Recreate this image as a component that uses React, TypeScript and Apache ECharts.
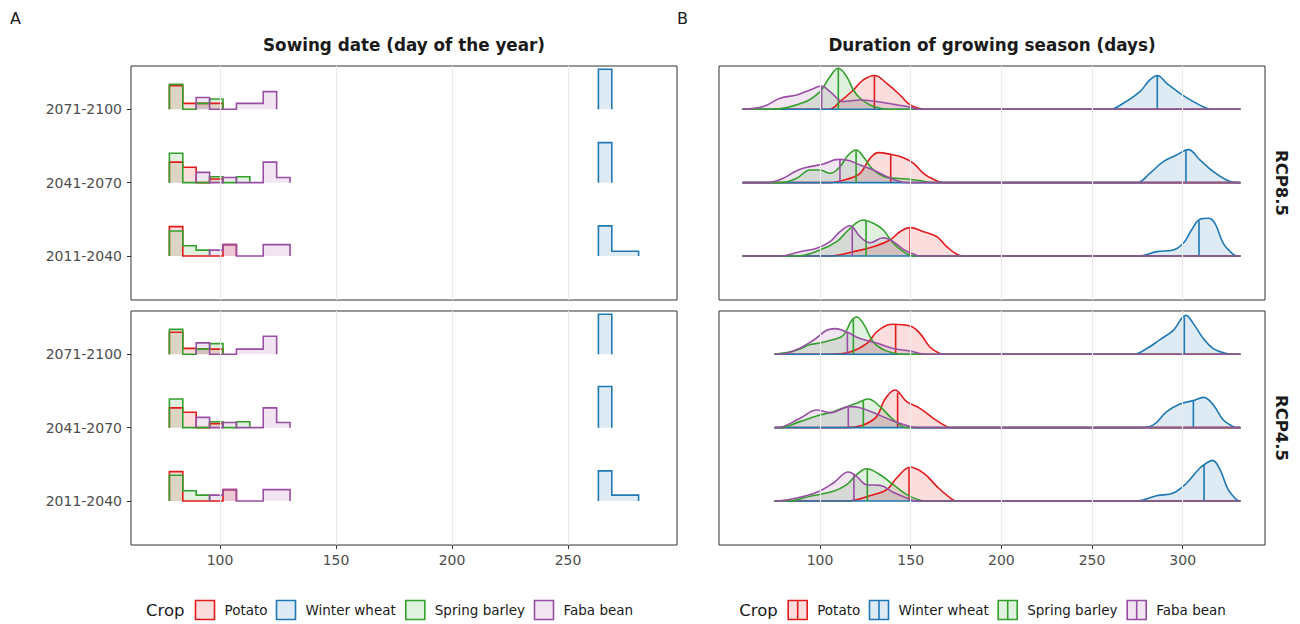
import React, { useEffect, useRef } from "react";
import * as echarts from "echarts";

// ---------- categories ----------
const PERIODS = ["2011-2040", "2041-2070", "2071-2100"]; // y = 1, 2, 3
const SCENARIOS = ["RCP8.5", "RCP4.5"];
const CROPS = ["Potato", "Winter wheat", "Spring barley", "Faba bean"];
const CROP_COLORS = ["#E31A1C", "#1F78B4", "#33A02C", "#984EA3"];

// ---------- axes ----------
const SOWING_TICKS = [100, 150, 200, 250];
const DURATION_TICKS = [100, 150, 200, 250, 300];
const SOWING_AXIS = [61.6, 297];
const DURATION_AXIS = [44.3, 345.4];
const Y_AXIS = [0.4, 3.59];

// ---------- A: sowing date histograms ----------
const BIN_START = 78.15;
const BIN_WIDTH = 5.78;
// each row (per period 2011-2040, 2041-2070, 2071-2100): [first bin index, ...relative heights]
const SOW85_POTATO = [[0, 0.4, 0, 0, 0, 0.155], [0, 0.28, 0.21, 0, 0.05], [0, 0.32, 0.08, 0.08, 0.08]];
const SOW85_WHEAT = [[32, 0.41, 0.064, 0.064], [32, 0.545], [32, 0.545]];
const SOW85_BARLEY = [[0, 0.34, 0.14, 0.08], [0, 0.4, 0, 0, 0.08, 0, 0.08], [0, 0.34, 0, 0.08, 0.14]];
const SOW85_FABA = [[3, 0.08, 0.155, 0, 0, 0.155, 0.155], [2, 0.14, 0, 0.07, 0, 0, 0.28, 0.07], [2, 0.16, 0, 0, 0.08, 0.08, 0.24]];

const SOW45_POTATO = [[0, 0.4, 0, 0, 0, 0.155], [0, 0.27, 0.21, 0, 0.055], [0, 0.3, 0.08, 0.07, 0.07]];
const SOW45_WHEAT = [[32, 0.41, 0.08, 0.08], [32, 0.56], [32, 0.545]];
const SOW45_BARLEY = [[0, 0.35, 0.14, 0.08], [0, 0.39, 0, 0, 0.08, 0, 0.08], [0, 0.34, 0, 0.07, 0.145]];
const SOW45_FABA = [[3, 0.08, 0.155, 0, 0, 0.155, 0.155], [2, 0.14, 0, 0.07, 0, 0, 0.27, 0.07], [2, 0.155, 0, 0, 0.07, 0.07, 0.245]];

// ---------- B: growing season duration densities ----------
const DUR_RANGE = [[57.5, 331.6], [75.2, 331.6]]; // per scenario

const DUR85_POTATO = [
  [[105.5, 0], [118.4, 0.059], [129.4, 0.127], [138.6, 0.218], [144.1, 0.331], [149.7, 0.386], [157.1, 0.331], [164.4, 0.263], [169.9, 0.127], [175.4, 0.023], [179, 0]],
  [[105, 0], [114.7, 0.045], [122.1, 0.127], [127.6, 0.331], [132.2, 0.409], [138.7, 0.386], [146, 0.34], [151.6, 0.263], [157.1, 0.127], [162.5, 0.045], [168, 0]],
  [[105, 0], [111, 0.105], [118.4, 0.263], [123.9, 0.4], [130, 0.46], [136.8, 0.354], [144.1, 0.195], [149.7, 0.059], [155.2, 0.01], [158.8, 0]],
];
const DUR85_WHEAT = [
  [[276.4, 0], [285.6, 0.059], [294.8, 0.082], [300.3, 0.173], [304.9, 0.354], [309.5, 0.5], [314.1, 0.514], [317.8, 0.445], [322.4, 0.173], [327.9, 0.023], [330.6, 0]],
  [[274.6, 0], [281.9, 0.127], [289.3, 0.286], [296.6, 0.377], [303.1, 0.45], [309.5, 0.309], [316.9, 0.15], [324.2, 0.037], [329.7, 0]],
  [[259.9, 0], [267.2, 0.082], [276.4, 0.241], [281.9, 0.4], [286, 0.46], [291.2, 0.354], [298.5, 0.218], [305.9, 0.105], [313.2, 0.014], [316.9, 0]],
];
const DUR85_BARLEY = [
  [[87.1, 0], [100, 0.082], [109.2, 0.195], [114.7, 0.331], [120.2, 0.454], [123.5, 0.49], [129.4, 0.445], [134.9, 0.354], [140.4, 0.173], [146, 0.059], [151.5, 0]],
  [[77.9, 0], [87.1, 0.059], [94.5, 0.173], [100, 0.173], [105.5, 0.127], [111, 0.218], [115.6, 0.377], [119.9, 0.445], [123.9, 0.354], [129.4, 0.173], [136.8, 0.072], [147.8, 0.05], [155.1, 0.027], [162.5, 0]],
  [[72.4, 0], [90.8, 0.091], [100, 0.241], [105.5, 0.445], [110.1, 0.559], [114.7, 0.445], [118.4, 0.263], [122.1, 0.15], [127.6, 0.059], [133.1, 0.014], [136.8, 0]],
];
const DUR85_FABA = [
  [[77.9, 0], [89, 0.059], [98.2, 0.105], [105.5, 0.195], [111, 0.331], [116.5, 0.413], [122.1, 0.263], [127.6, 0.181], [134.9, 0.249], [140.4, 0.195], [146, 0.091], [151.5, 0.027], [155.1, 0]],
  [[70.6, 0], [79.7, 0.059], [87.1, 0.163], [94.5, 0.218], [101.8, 0.254], [110.1, 0.317], [114.7, 0.309], [122.1, 0.241], [129.4, 0.173], [136.8, 0.082], [142.3, 0.027], [147.8, 0]],
  [[57.7, 0], [68.7, 0.037], [77.9, 0.15], [87.1, 0.195], [94.5, 0.263], [100.9, 0.317], [105.5, 0.241], [112.9, 0.105], [122.1, 0.127], [131.2, 0.105], [140.4, 0.068], [147.8, 0.037], [155.1, 0]],
];
const DUR85_MEDIANS = [
  [149.7, 139, 130],
  [309, 301.8, 286],
  [125.4, 119.9, 110.1],
  [117.8, 111, 100.9],
];

const DUR45_POTATO = [
  [[114.7, 0], [129.4, 0.086], [136.8, 0.154], [142.3, 0.313], [149.7, 0.459], [157.1, 0.381], [164.4, 0.2], [171.8, 0.041], [175.4, 0]],
  [[114.7, 0], [123.9, 0.037], [131.2, 0.15], [135.8, 0.386], [141.3, 0.514], [147.8, 0.354], [155.1, 0.263], [162.5, 0.127], [169.9, 0.014], [172.5, 0]],
  [[105.5, 0], [116.5, 0.031], [125.7, 0.146], [131.2, 0.304], [136.8, 0.395], [140.4, 0.409], [149.7, 0.386], [155.2, 0.282], [160.6, 0.1], [166.1, 0.01], [168.5, 0]],
];
const DUR45_WHEAT = [
  [[274.6, 0], [285.6, 0.072], [294.8, 0.109], [302.2, 0.245], [309.5, 0.45], [313.2, 0.518], [316.5, 0.554], [320.6, 0.426], [325.1, 0.154], [329.7, 0.018], [331.5, 0]],
  [[276.4, 0], [283.8, 0.037], [291.2, 0.218], [298.5, 0.323], [305.9, 0.368], [311.4, 0.413], [316.9, 0.309], [322.4, 0.105], [327.9, 0.014], [329.7, 0]],
  [[272.8, 0], [280.2, 0.078], [287.5, 0.2], [294.8, 0.327], [301.8, 0.531], [305.9, 0.418], [311.4, 0.214], [316.9, 0.078], [324.2, 0.01], [327.9, 0]],
];
const DUR45_BARLEY = [
  [[81.6, 0], [94.5, 0.064], [107.4, 0.132], [114.7, 0.222], [120.2, 0.358], [125.7, 0.44], [133.1, 0.358], [140.4, 0.222], [147.8, 0.086], [155.1, 0.01], [158.8, 0]],
  [[77.9, 0], [89, 0.082], [98.2, 0.159], [107.4, 0.218], [114.7, 0.286], [120.2, 0.331], [126.6, 0.391], [133.1, 0.286], [138.6, 0.15], [144.1, 0.037], [147.8, 0]],
  [[75.2, 0], [87.1, 0.054], [94.5, 0.132], [100, 0.154], [107.4, 0.2], [112.9, 0.259], [117.5, 0.463], [120.2, 0.508], [123.9, 0.418], [129.4, 0.168], [134.9, 0.064], [140.4, 0.018], [145, 0]],
];
const DUR45_FABA = [
  [[76, 0], [87.1, 0.041], [98.2, 0.118], [107.4, 0.245], [115.6, 0.395], [120.2, 0.336], [125.7, 0.222], [133.1, 0.213], [140.4, 0.118], [147.8, 0.041], [153.4, 0]],
  [[76, 0], [89, 0.127], [98.2, 0.241], [105.5, 0.204], [116.5, 0.286], [122.1, 0.272], [131.2, 0.186], [140.4, 0.091], [149.7, 0.014], [153.4, 0]],
  [[77.9, 0], [87.1, 0.064], [96.3, 0.191], [103.7, 0.327], [108.3, 0.35], [114.7, 0.304], [122.1, 0.214], [131.2, 0.154], [140.4, 0.078], [149.7, 0.045], [155.1, 0.01], [158.8, 0]],
];
const DUR45_MEDIANS = [
  [149.1, 142.8, 141.7],
  [311.8, 305.9, 300.9],
  [126.1, 123.9, 118.4],
  [118.7, 115.6, 115.1],
];

const SOWING = [
  [SOW85_POTATO, SOW85_WHEAT, SOW85_BARLEY, SOW85_FABA],
  [SOW45_POTATO, SOW45_WHEAT, SOW45_BARLEY, SOW45_FABA],
];
const DURATION = [
  [DUR85_POTATO, DUR85_WHEAT, DUR85_BARLEY, DUR85_FABA],
  [DUR45_POTATO, DUR45_WHEAT, DUR45_BARLEY, DUR45_FABA],
];
const MEDIANS = [DUR85_MEDIANS, DUR45_MEDIANS];

// ---------- layout ----------
const FONT = "DejaVu Sans";
const LINE_W = 1.6;
const SMOOTH = 0.4;
const GRIDS = [
  { left: 131, top: 66, width: 546, height: 234 },
  { left: 131, top: 311, width: 546, height: 234 },
  { left: 719, top: 66, width: 546, height: 234 },
  { left: 719, top: 311, width: 546, height: 234 },
];
const LEGEND_A = { crop: 146, keys: [195, 276, 405.3, 534] };
const LEGEND_B = { crop: 739.3, keys: [787.7, 869, 997.7, 1126.7] };
const LEGEND_Y = 600;

function rgba(hex: string, a: number) {
  const n = parseInt(hex.slice(1), 16);
  return `rgba(${(n >> 16) & 255},${(n >> 8) & 255},${n & 255},${a})`;
}

function heightAt(pts: number[][], x: number) {
  for (let i = 0; i < pts.length - 1; i++) {
    const [x0, y0] = pts[i];
    const [x1, y1] = pts[i + 1];
    if (x >= x0 && x <= x1) return y0 + ((y1 - y0) * (x - x0)) / (x1 - x0);
  }
  return 0;
}

function buildOption() {
  const series: any[] = [];
  const grid = GRIDS.map((g) => ({
    ...g,
    show: true,
    borderColor: "#333333",
    borderWidth: 1,
    backgroundColor: "transparent",
  }));
  const xAxis = GRIDS.map((_, g) => {
    const isA = g < 2;
    const bottom = g % 2 === 1;
    const ticks = isA ? SOWING_TICKS : DURATION_TICKS;
    const range = isA ? SOWING_AXIS : DURATION_AXIS;
    return {
      type: "value",
      gridIndex: g,
      min: range[0],
      max: range[1],
      axisLine: { show: false },
      axisTick: { show: bottom, customValues: ticks, length: 4, lineStyle: { color: "#333333" } },
      axisLabel: {
        show: bottom,
        customValues: ticks,
        margin: 8,
        color: "#4d4d4d",
        fontSize: 14,
        fontFamily: FONT,
      },
      splitLine: { show: false },
    };
  });
  const yAxis = GRIDS.map((_, g) => {
    const isA = g < 2;
    return {
      type: "value",
      gridIndex: g,
      min: Y_AXIS[0],
      max: Y_AXIS[1],
      axisLine: { show: false },
      axisTick: { show: isA, customValues: [1, 2, 3], length: 4, lineStyle: { color: "#333333" } },
      axisLabel: {
        show: isA,
        customValues: [1, 2, 3],
        formatter: (v: number) => PERIODS[Math.round(v) - 1],
        margin: 9,
        color: "#4d4d4d",
        fontSize: 14,
        fontFamily: FONT,
      },
      splitLine: { show: false },
    };
  });

  // grid lines
  GRIDS.forEach((_, g) => {
    const ticks = g < 2 ? SOWING_TICKS : DURATION_TICKS;
    series.push({
      type: "line",
      xAxisIndex: g,
      yAxisIndex: g,
      data: [[ticks[0], 1]],
      symbol: "none",
      silent: true,
      lineStyle: { width: 0 },
      z: 0,
      markLine: {
        silent: true,
        symbol: "none",
        label: { show: false },
        lineStyle: { color: "#EBEBEB", type: "solid", width: 1.1 },
        data: ticks.map((t) => ({ xAxis: t })),
      },
    });
  });

  SCENARIOS.forEach((_, s) => {
    // Panel A histograms
    const gA = s;
    for (let p = 2; p >= 0; p--) {
      const base = p + 1;
      CROPS.forEach((_, c) => {
        const row = SOWING[s][c][p];
        const first = row[0];
        const hs = row.slice(1);
        const pts: number[][] = [];
        hs.forEach((h, i) => {
          const e0 = BIN_START + (first + i) * BIN_WIDTH;
          const e1 = e0 + BIN_WIDTH;
          if (i === 0) pts.push([e0, base]);
          pts.push([e0, base + h]);
          pts.push([e1, base + h]);
          if (i === hs.length - 1) pts.push([e1, base]);
        });
        series.push({
          type: "line",
          xAxisIndex: gA,
          yAxisIndex: gA,
          data: pts,
          symbol: "none",
          silent: true,
          lineStyle: { color: CROP_COLORS[c], width: LINE_W, join: "miter" },
          areaStyle: { color: rgba(CROP_COLORS[c], 0.15), origin: base, opacity: 1 },
        });
      });
    }
    // Panel B densities
    const gB = 2 + s;
    const [r0, r1] = DUR_RANGE[s];
    for (let p = 2; p >= 0; p--) {
      const base = p + 1;
      CROPS.forEach((_, c) => {
        const dens = DURATION[s][c][p];
        const full = [[r0, 0], ...dens, [r1, 0]].map(([x, h]) => [x, base + h]);
        // fill
        series.push({
          type: "line",
          xAxisIndex: gB,
          yAxisIndex: gB,
          data: full,
          symbol: "none",
          silent: true,
          smooth: SMOOTH,
          lineStyle: { width: 0, opacity: 0 },
          areaStyle: { color: rgba(CROP_COLORS[c], 0.15), origin: base, opacity: 1 },
        });
        // outline
        series.push({
          type: "line",
          xAxisIndex: gB,
          yAxisIndex: gB,
          data: full,
          symbol: "none",
          silent: true,
          smooth: SMOOTH,
          lineStyle: { color: CROP_COLORS[c], width: LINE_W, join: "round", cap: "round" },
        });
        const m = MEDIANS[s][c][p];
        series.push({
          type: "line",
          xAxisIndex: gB,
          yAxisIndex: gB,
          data: [[m, base], [m, base + heightAt(dens, m)]],
          symbol: "none",
          silent: true,
          lineStyle: { color: CROP_COLORS[c], width: LINE_W },
        });
      });
    }
  });

  // texts and legends
  const graphic: any[] = [];
  const txt = (x: number, y: number, text: string, extra: any = {}) => ({
    type: "text",
    x,
    y,
    silent: true,
    style: {
      text,
      fill: "#1a1a1a",
      fontFamily: FONT,
      fontSize: 13.5,
      verticalAlign: "middle",
      align: "left",
      ...extra,
    },
  });
  graphic.push(txt(10, 18, "A", { fontSize: 16 }));
  graphic.push(txt(677, 18, "B", { fontSize: 16 }));
  graphic.push(
    txt(404, 45, "Sowing date (day of the year)", { fontSize: 16.8, fontWeight: "bold", align: "center" })
  );
  graphic.push(
    txt(992, 45, "Duration of growing season (days)", { fontSize: 16.8, fontWeight: "bold", align: "center" })
  );
  SCENARIOS.forEach((sc, s) => {
    const g = GRIDS[2 + s];
    graphic.push({
      type: "text",
      x: 1281,
      y: g.top + g.height / 2,
      rotation: -Math.PI / 2,
      silent: true,
      style: {
        text: sc,
        fill: "#1a1a1a",
        fontFamily: FONT,
        fontSize: 16.5,
        fontWeight: "bold",
        align: "center",
        verticalAlign: "middle",
      },
    });
  });
  [LEGEND_A, LEGEND_B].forEach((lg, li) => {
    graphic.push(txt(lg.crop, LEGEND_Y + 10, "Crop", { fontSize: 16.5 }));
    CROPS.forEach((name, c) => {
      const kx = lg.keys[c];
      graphic.push({
        type: "rect",
        silent: true,
        shape: { x: kx + 0.5, y: LEGEND_Y + 0.5, width: 19, height: 19 },
        style: { fill: rgba(CROP_COLORS[c], 0.15), stroke: CROP_COLORS[c], lineWidth: LINE_W },
      });
      if (li === 1) {
        graphic.push({
          type: "line",
          silent: true,
          shape: { x1: kx + 10, y1: LEGEND_Y + 0.5, x2: kx + 10, y2: LEGEND_Y + 19.5 },
          style: { stroke: CROP_COLORS[c], lineWidth: LINE_W },
        });
      }
      graphic.push(txt(kx + 29.5, LEGEND_Y + 10, name, { fontSize: 13.5 }));
    });
  });

  return {
    animation: false,
    backgroundColor: "#ffffff",
    grid,
    xAxis,
    yAxis,
    series,
    graphic,
  };
}

export default function App() {
  const ref = useRef<HTMLDivElement>(null);
  useEffect(() => {
    document.body.style.margin = "0";
    if (!ref.current) return;
    const chart = echarts.init(ref.current, undefined, { renderer: "svg" });
    chart.setOption(buildOption() as any);
    return () => chart.dispose();
  }, []);
  return <div ref={ref} style={{ width: 1300, height: 624 }} />;
}
